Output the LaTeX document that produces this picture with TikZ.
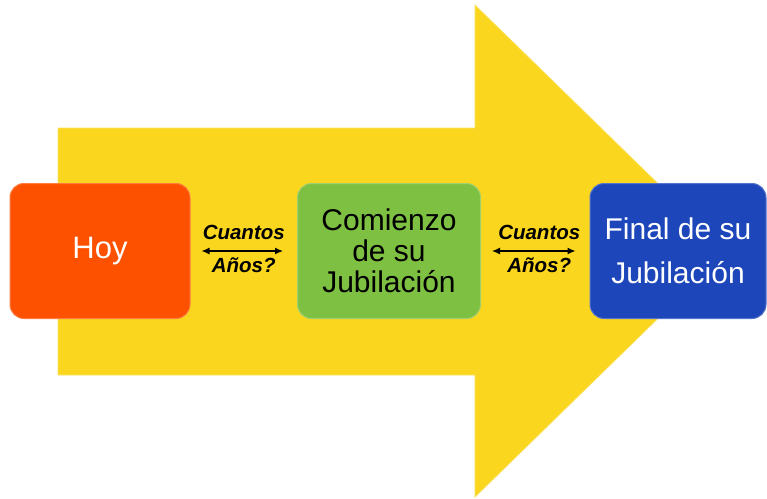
\documentclass[tikz,border=0pt]{standalone}
\usepackage{fontspec}
\setmainfont{Liberation Sans}
\usetikzlibrary{positioning,arrows.meta}

\definecolor{arrowyellow}{RGB}{250,214,30}
\definecolor{hoyorange}{RGB}{253,81,0}
\definecolor{startgreen}{RGB}{126,192,66}
\definecolor{endblue}{RGB}{28,70,185}

\begin{document}
\begin{tikzpicture}[x=1pt, y=-1pt, node distance=289pt,
		box/.style={rounded corners=14pt, align=center, inner sep=0pt, minimum height=135pt, line width=1pt, font=\fontsize{30}{31}\selectfont},
		years/.style={font=\fontsize{20.5}{22}\selectfont\bfseries\itshape, text=black, inner sep=0pt, anchor=base}]
			\useasboundingbox (0,0) rectangle (767,498);

			% big arrow in the back
			\filldraw[fill=arrowyellow, draw=arrowyellow!70!white, line width=0.8pt]
				(58,128) -- (475,128) -- (475,5) -- (727,251) -- (475,497) -- (475,375) -- (58,375) -- cycle;

			\node[box, fill=hoyorange, draw=hoyorange!75!white, text=white, minimum width=180pt, font=\fontsize{31}{33}\selectfont] (hoy) at (100,251) {Hoy};
			\node[box, fill=startgreen, draw=startgreen!75!white, text=black, minimum width=183pt] (comienzo)[right of = hoy] {Comienzo\\de su\\Jubilación};
			\node[box, fill=endblue, draw=endblue!75!white, text=white, minimum width=176pt, font=\fontsize{30}{44}\selectfont] (final)[right of = comienzo] {Final de su\\Jubilación};

			\path[<->, >={Latex[length=8pt,width=7pt]}, line width=1.3pt, shorten <=11pt, shorten >=14pt]
				(hoy) edge node[years, yshift=12pt] {Cuantos} node[years, yshift=-21pt] {Años?} (comienzo)
				(comienzo) edge node[years, yshift=12pt, xshift=4pt] {Cuantos} node[years, yshift=-21pt, xshift=4pt] {Años?} (final)
			;
		\end{tikzpicture}
\end{document}
